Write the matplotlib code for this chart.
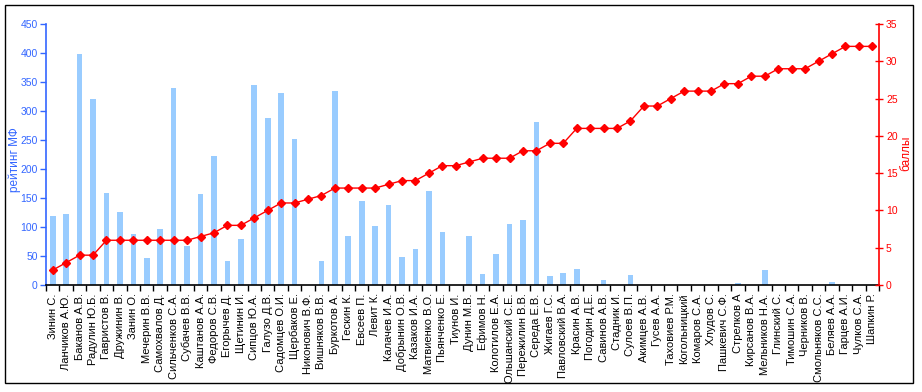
import matplotlib
matplotlib.use("Agg")
import matplotlib.pyplot as plt
import numpy as np

plt.rcParams['font.family'] = ['Liberation Sans', 'DejaVu Sans']

names = ["Зинин С.", "Ланчиков А.Ю.", "Баканов А.В.", "Радулин Ю.Б.", "Гавристов В.",
         "Дружинин В.", "Занин О.", "Мечерин В.В.", "Самохвалов Д.", "Сильченков С.А.",
         "Субачев В.В.", "Каштанов А.А.", "Федоров С.В.", "Егорычев Д.", "Щетинин И.",
         "Сипцов Ю.А.", "Галузо Д.В.", "Садомцев О.И.", "Щербаков Е.", "Никонович В.Ф.",
         "Вишняков В.В.", "Буркотов А.", "Гескин К.", "Евсеев П.", "Левит К.",
         "Калачев И.А.", "Добрынин О.В.", "Казаков И.А.", "Матвиенко В.О.", "Пьянченко Е.",
         "Тиунов И.", "Дунин М.В.", "Ефимов Н.", "Колотилов Е.А.", "Ольшанский С.Е.",
         "Пережилин В.В.", "Середа Е.В.", "Жигаев Г.С.", "Павловский В.А.", "Красин А.В.",
         "Погодин Д.Е.", "Савинов А.В.", "Стадник И.", "Сулоев В.П.", "Акимцев А.В.",
         "Гусев А.А.", "Таховиев Р.М.", "Когольницкий", "Комаров С.А.", "Хлудов С.",
         "Пашкевич С.Ф.", "Стрелков А", "Кирсанов В.А.", "Мельников Н.А.", "Глинский С.",
         "Тимошин С.А.", "Черников В.", "Смольняков С.С.", "Беляев А.А.", "Гарцев А.И.",
         "Чулков С.А.", "Шапкин Р."]

rating = [119, 122, 399, 321, 159, 126, 88, 47, 97, 340,
          67, 157, 223, 41, 79, 345, 288, 331, 252, 0,
          41, 335, 85, 145, 102, 138, 48, 62, 162, 92,
          0, 85, 19, 54, 105, 112, 281, 15, 21, 28,
          0, 9, 0, 17, 0, 0, 0, 0, 0, 0,
          0, 3.5, 0, 26, 0, 0, 0, 0, 5, 0,
          0, 0]

points = [2, 3, 4, 4, 6, 6, 6, 6, 6, 6,
          6, 6.5, 7, 8, 8, 9, 10, 11, 11, 11.5,
          12, 13, 13, 13, 13, 13.5, 14, 14, 15, 16,
          16, 16.5, 17, 17, 17, 18, 18, 19, 19, 21,
          21, 21, 21, 22, 24, 24, 25, 26, 26, 26,
          27, 27, 28, 28, 29, 29, 29, 30, 31, 32,
          32, 32]

blue = '#3366FF'
red = '#FF0000'

fig = plt.figure(figsize=(9.22, 3.92), dpi=100)
ax = fig.add_axes([46/922, 1-285/392, (879-46)/922, (285-24)/392])
x = np.arange(len(names))
ax.bar(x, rating, width=0.42, color='#99CCFF', zorder=2)
ax.set_xlim(-0.5, len(names)-0.5)
ax.set_ylim(0, 450)
ax.set_yticks(np.arange(0, 451, 50))
ax.tick_params(axis='y', colors=blue, labelsize=7.5, length=4, direction='out', width=1, pad=2)
ax.spines['left'].set_color(blue)
ax.spines['left'].set_linewidth(1.2)
ax.spines['top'].set_visible(False)
ax.spines['right'].set_visible(False)
ax.spines['bottom'].set_linewidth(1.2)

ax.set_xticks(x)
ax.set_xticklabels(names, rotation=90, fontsize=8, va='top', ha='center')
ax.tick_params(axis='x', which='major', length=0, pad=6)
ax.set_xticks(np.arange(-0.5, len(names), 1), minor=True)
ax.tick_params(axis='x', which='minor', length=4, width=1, direction='out', color='black')

ax2 = ax.twinx()
ax2.plot(x, points, color=red, lw=1, marker='D', markersize=4.5, zorder=3)
ax2.set_ylim(0, 35)
ax2.set_yticks(np.arange(0, 36, 5))
ax2.tick_params(axis='y', colors=red, labelsize=7.5, length=6, direction='inout', width=1, pad=2)
ax2.spines['right'].set_color(red)
ax2.spines['right'].set_linewidth(1.2)
for s in ['left', 'top', 'bottom']:
    ax2.spines[s].set_visible(False)

fig.text(15/922, 1-160/392, 'рейтинг МФ', color=blue, fontsize=8.5, rotation=90,
         ha='center', va='center')
fig.text(906/922, 1-153/392, 'баллы', color=red, fontsize=8.5, rotation=90,
         ha='center', va='center')

border = plt.Rectangle((5/922, 1-383/392), (913-5)/922, (383-5)/392,
                       transform=fig.transFigure, fill=False, edgecolor='black', lw=1)
fig.patches.append(border)

fig.savefig('out.png', dpi=100)
